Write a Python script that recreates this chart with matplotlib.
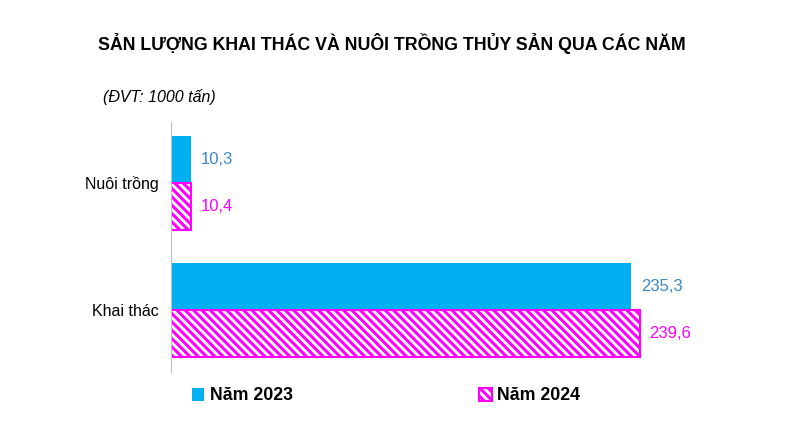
import matplotlib.pyplot as plt
import numpy as np

categories = ["Khai thác", "Nuôi trồng"]
nam_2023 = [235.3, 10.3]
nam_2024 = [239.6, 10.4]
labels_2023 = ["235,3", "10,3"]
labels_2024 = ["239,6", "10,4"]

plt.rcParams['font.family'] = ['Liberation Sans', 'DejaVu Sans']
plt.rcParams['hatch.color'] = '#FF00FF'
plt.rcParams['hatch.linewidth'] = 2.2

W, H = 799, 428
fig = plt.figure(figsize=(W / 100, H / 100), dpi=100)
ax = fig.add_axes([171 / W, 1 - 372 / H, (759 - 171) / W, (372 - 122) / H])

y = np.arange(len(categories))
h = 0.37
b1 = ax.barh(y + h / 2, nam_2023, height=h, color='#00B0F0', label='Năm 2023')
b2 = ax.barh(y - h / 2, nam_2024, height=h, color='white', edgecolor='#FF00FF',
             linewidth=1.5, hatch='\\\\\\\\', label='Năm 2024')

for bar, t in zip(b1, labels_2023):
    ax.annotate(t, (bar.get_width(), bar.get_y() + bar.get_height() / 2),
                xytext=(7, 0), textcoords='offset points', va='center',
                fontsize=12, color='#3A8AC8')
for bar, t in zip(b2, labels_2024):
    ax.annotate(t, (bar.get_width(), bar.get_y() + bar.get_height() / 2),
                xytext=(7, 0), textcoords='offset points', va='center',
                fontsize=12, color='#FF00FF')

ax.set_xlim(0, 300.5)
ax.set_ylim(-0.488, 1.48)
ax.set_yticks(y)
ax.set_yticklabels(categories, fontsize=11.5)
ax.tick_params(axis='y', length=0, pad=9)
ax.set_xticks([])
for s in ['top', 'right', 'bottom']:
    ax.spines[s].set_visible(False)
ax.spines['left'].set_color('#BFBFBF')

fig.text(0.491, 1 - 43 / H, 'SẢN LƯỢNG KHAI THÁC VÀ NUÔI TRỒNG THỦY SẢN QUA CÁC NĂM',
         ha='center', va='center', fontsize=12.8, fontweight='bold')
fig.text(103 / W, 1 - 97 / H, '(ĐVT: 1000 tấn)', ha='left', va='center',
         fontsize=11.5, style='italic')

fig.legend(handles=[b1, b2], loc='center', bbox_to_anchor=(0.483, 1 - 396 / H),
           ncol=2, frameon=False, handlelength=0.7, handleheight=0.7,
           handletextpad=0.3, columnspacing=10.5,
           prop={'weight': 'bold', 'size': 12.8})

fig.savefig('out.png', dpi=100)
